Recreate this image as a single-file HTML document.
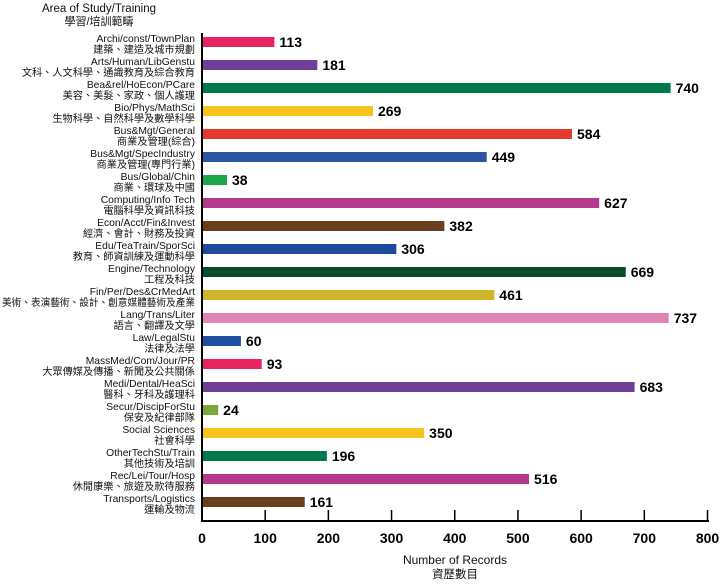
<!DOCTYPE html>
<html><head><meta charset="utf-8"><style>
html,body{margin:0;padding:0;background:#fff;}
svg text{font-family:"Liberation Sans","Noto Sans CJK TC",sans-serif;}
</style></head><body>
<svg width="720" height="580" xmlns="http://www.w3.org/2000/svg">
<text x="99" y="12" font-size="11.5" text-anchor="middle" fill="#111">Area of Study/Training</text>
<text x="99" y="25" font-size="11" text-anchor="middle" fill="#111">學習/培訓範疇</text>
<g id="rows"></g>
<line x1="202" y1="33" x2="202" y2="522" stroke="#000" stroke-width="2"/>
<line x1="202" y1="521" x2="709" y2="521" stroke="#000" stroke-width="2"/>
<g id="ticks" font-size="14" font-weight="bold" text-anchor="middle" fill="#000"></g>
<text x="455" y="564" font-size="12" text-anchor="middle" fill="#111">Number of Records</text>
<text x="455" y="578" font-size="11.5" text-anchor="middle" fill="#111">資歷數目</text>
<script>
const d=[
["Archi/const/TownPlan","建築、建造及城市規劃",113,"#e8245f"],
["Arts/Human/LibGenstu","文科、人文科學、通識教育及綜合教育",181,"#6f3f98"],
["Bea&rel/HoEcon/PCare","美容、美髮、家政、個人護理",740,"#007a4d"],
["Bio/Phys/MathSci","生物科學、自然科學及數學科學",269,"#f6c31a"],
["Bus&Mgt/General","商業及管理(綜合)",584,"#e63a2e"],
["Bus&Mgt/SpecIndustry","商業及管理(專門行業)",449,"#2e55a3"],
["Bus/Global/Chin","商業、環球及中國",38,"#1aa64a"],
["Computing/Info Tech","電腦科學及資訊科技",627,"#b5388f"],
["Econ/Acct/Fin&Invest","經濟、會計、財務及投資",382,"#6b3e1e"],
["Edu/TeaTrain/SporSci","教育、師資訓練及運動科學",306,"#1e4a9c"],
["Engine/Technology","工程及科技",669,"#0a4a2a"],
["Fin/Per/Des&CrMedArt","美術、表演藝術、設計、創意媒體藝術及產業",461,"#cfb52a"],
["Lang/Trans/Liter","語言、翻譯及文學",737,"#de85b5"],
["Law/LegalStu","法律及法學",60,"#1f4fa0"],
["MassMed/Com/Jour/PR","大眾傳媒及傳播、新聞及公共關係",93,"#e8245f"],
["Medi/Dental/HeaSci","醫科、牙科及護理科",683,"#6f3f98"],
["Secur/DiscipForStu","保安及紀律部隊",24,"#7aa63a"],
["Social Sciences","社會科學",350,"#f6c31a"],
["OtherTechStu/Train","其他技術及培訓",196,"#007a4d"],
["Rec/Lei/Tour/Hosp","休閒康樂、旅遊及款待服務",516,"#b5388f"],
["Transports/Logistics","運輸及物流",161,"#6b3e1e"]];
const ns="http://www.w3.org/2000/svg";const g=document.getElementById("rows");
function el(t,a,txt){const e=document.createElementNS(ns,t);for(const k in a)e.setAttribute(k,a[k]);if(txt)e.textContent=txt;return e;}
const s=505.5/800;
d.forEach((r,i)=>{const cy=42+i*23;const w=r[2]*s;
g.appendChild(el("rect",{x:203,y:cy-5,width:w,height:10,fill:r[3]}));
g.appendChild(el("text",{x:203+w+5,y:cy+5,"font-size":14,"font-weight":"bold",fill:"#000"},String(r[2])));
g.appendChild(el("text",{x:195,y:cy,"font-size":10.3,"text-anchor":"end",fill:"#111"},r[0]));
const a={x:195,y:cy+11,"font-size":10.2,"text-anchor":"end",fill:"#111"};
if(r[1].length>18){a.textLength=193;a.lengthAdjust="spacingAndGlyphs";}
g.appendChild(el("text",a,r[1]));
});
const t=document.getElementById("ticks");
for(let v=0;v<=800;v+=100){const x=202+v*s;
if(v>0)t.appendChild(el("line",{x1:x,y1:510,x2:x,y2:521,stroke:"#000","stroke-width":1.5}));
t.appendChild(el("text",{x:x,y:543},String(v)));}
</script>
</svg>
</body></html>
